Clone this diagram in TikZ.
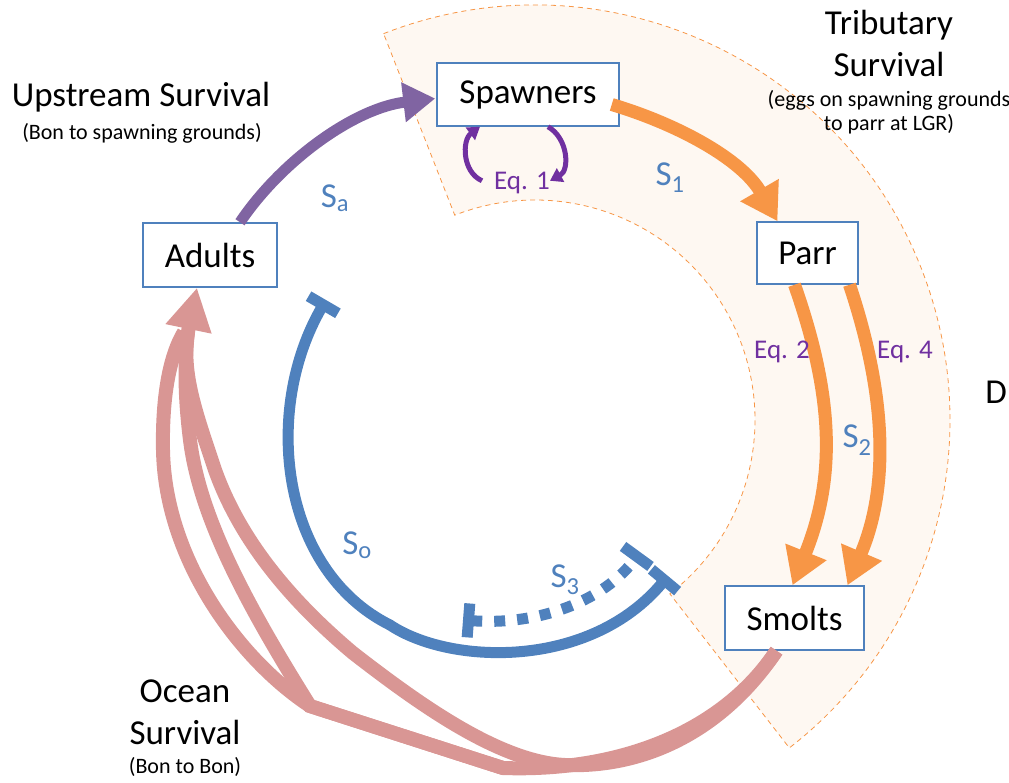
\documentclass[tikz,border=0pt]{standalone}
\usepackage{fontspec}
\setmainfont{Carlito}
\usetikzlibrary{arrows.meta}
\definecolor{boxblue}{HTML}{4F81BD}
\definecolor{upviolet}{HTML}{8064A2}
\definecolor{eqpurple}{HTML}{7030A0}
\definecolor{tribor}{HTML}{F79646}
\definecolor{oceanpink}{HTML}{D99694}
\definecolor{zonefill}{HTML}{FEF8F2}

\begin{document}
\begin{tikzpicture}[x=1pt,y=-1pt,
	stage/.style={draw=boxblue,line width=1.5pt,fill=white,inner sep=0pt,font=\fontsize{35}{42}\selectfont},
	title/.style={align=center,font=\fontsize{35}{42}\selectfont},
	subtitle/.style={align=center,font=\fontsize{22}{24}\selectfont},
	rate/.style={text=boxblue,inner sep=0pt,font=\fontsize{35}{42}\selectfont},
	eqlabel/.style={text=eqpurple,inner sep=0pt,font=\fontsize{27}{30}\selectfont},
	upflow/.style={upviolet,line width=11pt,-{Triangle[width=38pt,length=32pt]}},
	tribflow/.style={tribor,line width=13pt,-{Triangle[width=42pt,length=36pt]}},
	seaflow/.style={oceanpink,line width=14pt},
	eqflow/.style={eqpurple,line width=5pt,-{Triangle[width=15pt,length=12pt]}},
	blocked/.style={boxblue,line width=11pt,{Bar[width=34pt]}-{Bar[width=34pt]}},
	zone/.style={fill=zonefill,draw=tribor,line width=0.8pt,dash pattern=on 5pt off 4pt}]
			\useasboundingbox (0,0) rectangle (1009,782);
			% tributary band
			\begin{scope}[shift={(535,420)}]
				\draw[zone] (-111.4:415) arc[start angle=-111.4,end angle=52.2,radius=415]
					-- (52.2:220) arc[start angle=52.2,end angle=-111.4,radius=220] -- cycle;
			\end{scope}
			\node[stage,minimum width=182pt,minimum height=63pt] (spw) at (528,94.5) {Spawners};
			\node[stage,minimum width=134pt,minimum height=64pt] (adl) at (210,255) {Adults};
			\node[stage,minimum width=101pt,minimum height=62pt] (parr) at (807.5,253) {Parr};
			\node[stage,minimum width=139pt,minimum height=64pt] (smt) at (794.5,618) {Smolts};
			\coordinate (bon) at (503,768);
			\coordinate (split) at (310,706);
			\coordinate (oin) at (326,300);
			\coordinate (oout) at (668,576);
			\coordinate (jin) at (463,620);
			\coordinate (jout) at (640,552);
			\draw[upflow] ([xshift=30pt]adl.north) .. controls (282,160) and (355,108) .. ([xshift=-1pt,yshift=-4pt]spw.west);
			\draw[tribflow] ([xshift=-8pt,yshift=-10pt]spw.east) .. controls (680,125) and (742,160) .. ([xshift=-30pt]parr.north);
			\draw[tribflow] ([xshift=-13pt]parr.south) .. controls (835,400) and (835,480) .. ([xshift=-2pt]smt.north);
			\draw[tribflow] ([xshift=42pt]parr.south) .. controls (888,400) and (888,490) .. ([xshift=53pt]smt.north);
			\draw[seaflow] ([xshift=-18pt]smt.south) .. controls (720,735) and (615,772) .. (bon) -- (split)
				.. controls (240,660) and (165,560) .. (163,450) .. controls (162,395) and (170,355) .. (184,332);
			\draw[seaflow] (bon) -- (split) .. controls (250,610) and (200,520) .. (190,440) .. controls (185,400) and (184,365) .. (188,332);
			\draw[seaflow,-{Triangle[width=44pt,length=42pt]}] ([xshift=-18pt]smt.south) .. controls (720,735) and (640,768) .. (565,765)
				.. controls (500,762) and (420,705) .. (353,653) .. controls (290,600) and (240,540) .. (215,470)
				.. controls (195,410) and (180,370) .. ([xshift=-13pt]adl.south);
			\draw[blocked] (oin) .. controls (262,410) and (280,570) .. (390,625) .. controls (450,665) and (590,670) .. (oout);
			\draw[blocked,dash pattern=on 11pt off 12pt] (jin) .. controls (540,626) and (605,600) .. (jout);
			\draw[eqflow] ([xshift=-46pt,yshift=-54pt]spw.south) .. controls (462,172) and (462,140) .. ([xshift=-48pt]spw.south);
			\draw[eqflow] ([xshift=20pt]spw.south) .. controls (568,138) and (570,170) .. ([xshift=22pt,yshift=-54pt]spw.south);
			\node[rate] (sa) at (335,198) {S\textsubscript{a}};
			\node[rate] (s1) at (670,178) {S\textsubscript{1}};
			\node[rate] (s2) at (857,440) {S\textsubscript{2}};
			\node[rate] (so) at (357,545) {S\textsubscript{o}};
			\node[rate] (s3) at (565,580) {S\textsubscript{3}};
			\node[eqlabel] (eq1) at (522,183) {Eq. 1};
			\node[eqlabel] (eq2) at (782,352) {Eq. 2};
			\node[eqlabel] (eq4) at (905,352) {Eq. 4};
			\node[title] (up) at (141,97) {Upstream Survival};
			\node[subtitle] (upsub) at (142,133) {(Bon to spawning grounds)};
			\node[title] (trib) at (889,43) {Tributary\\Survival};
			\node[subtitle] (tribsub) at (889,112) {(eggs on spawning grounds\\to parr at LGR)};
			\node[title] (ocean) at (185,712) {Ocean\\Survival};
			\node[subtitle] (oceansub) at (185,767) {(Bon to Bon)};
			\node[title,anchor=east,inner sep=0pt] (down) at (1007,392) {D};
\end{tikzpicture}
\end{document}
